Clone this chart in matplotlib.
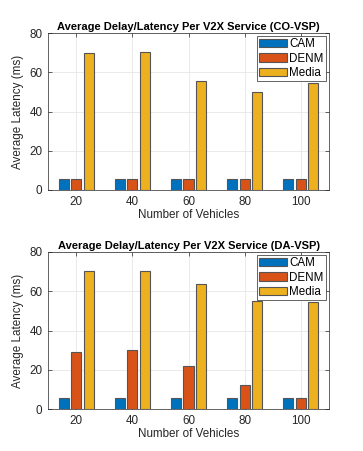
import numpy as np
import matplotlib.pyplot as plt

plt.rcParams['font.family'] = ['Liberation Sans', 'DejaVu Sans']

vehicles = [20, 40, 60, 80, 100]
services = ['CAM', 'DENM', 'Media']

# CO-VSP
co_cam = [5.8, 5.5, 5.5, 5.5, 5.5]
co_denm = [5.5, 5.5, 5.5, 5.5, 5.5]
co_media = [69.7, 70.1, 55.4, 49.8, 54.3]

# DA-VSP
da_cam = [5.4, 5.8, 5.7, 5.8, 5.8]
da_denm = [29.2, 30.3, 22.1, 12.0, 5.7]
da_media = [70.4, 70.1, 63.9, 55.1, 54.3]

colors = ['#0072BD', '#D95319', '#EDB120']
edge = '#555555'
txt = '#262626'

fig = plt.figure(figsize=(3.63, 4.51), dpi=100)
ax1 = fig.add_axes([48/363, 1-190/451, 281/363, 157/451])
ax2 = fig.add_axes([48/363, 1-409/451, 281/363, 157/451])

def draw(ax, data, title):
    x = np.array(vehicles, dtype=float)
    w = 3.56
    step = 4.45
    for i, (vals, c) in enumerate(zip(data, colors)):
        ax.bar(x + (i - 1) * step, vals, width=w, color=c, edgecolor=edge,
               linewidth=0.8, label=services[i], zorder=3)
    ax.set_xlim(10, 110)
    ax.set_ylim(0, 80)
    ax.set_xticks(vehicles)
    ax.set_yticks([0, 20, 40, 60, 80])
    ax.grid(True, color='#e6e6e6', linewidth=0.6, zorder=0)
    ax.tick_params(direction='in', length=3, width=0.5, colors=txt,
                   labelsize=8.4, pad=4, top=True, right=True)
    for s in ax.spines.values():
        s.set_color(txt)
        s.set_linewidth(0.5)
    ax.set_xlabel('Number of Vehicles', fontsize=8.4, color=txt, labelpad=1)
    ax.set_ylabel('Average Latency (ms)', fontsize=8.4, color=txt, labelpad=4)
    ax.set_title(title, fontsize=8, fontweight='bold', pad=2.5)
    leg = ax.legend(loc='upper right', fontsize=8.4, fancybox=False,
                    framealpha=1, edgecolor=txt, handlelength=2.4,
                    handleheight=0.75, handletextpad=0.2, borderpad=0.15,
                    labelspacing=0.2, borderaxespad=0.3)
    leg.set_zorder(10)
    leg.get_frame().set_linewidth(0.5)

draw(ax1, [co_cam, co_denm, co_media],
     'Average Delay/Latency Per V2X Service (CO-VSP)')
draw(ax2, [da_cam, da_denm, da_media],
     'Average Delay/Latency Per V2X Service (DA-VSP)')

fig.savefig('out.png', dpi=100)
